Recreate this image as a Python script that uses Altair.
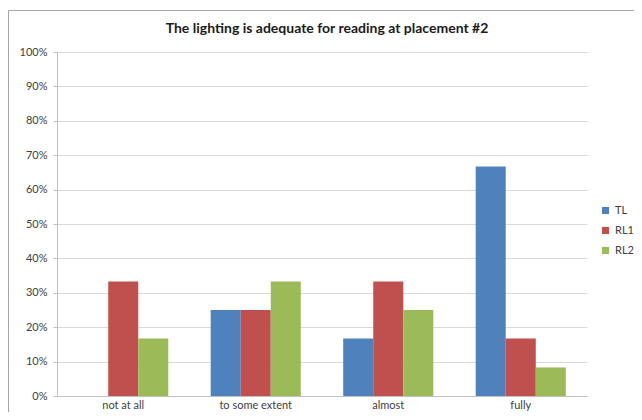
import altair as alt
import pandas as pd

categories = ["not at all", "to some extent", "almost", "fully"]
series = ["TL", "RL1", "RL2"]
tl = [0.0, 0.25, 0.167, 0.667]
rl1 = [0.333, 0.25, 0.333, 0.167]
rl2 = [0.167, 0.333, 0.25, 0.083]
colors = ["#4F81BD", "#C0504D", "#9BBB59"]
y_ticks = [0.0, 0.1, 0.2, 0.3, 0.4, 0.5, 0.6, 0.7, 0.8, 0.9, 1.0]
title_text = "The lighting is adequate for reading at placement #2"

rows = []
for name, vals in zip(series, [tl, rl1, rl2]):
    for c, v in zip(categories, vals):
        rows.append({"category": c, "series": name, "value": v})
df = pd.DataFrame(rows)

font = "Lato"

bars = alt.Chart(df).mark_bar().encode(
    x=alt.X(
        "category:N", sort=categories, title=None,
        scale=alt.Scale(paddingInner=0.32, paddingOuter=0.16),
        axis=alt.Axis(labelAngle=0, labelPadding=3, ticks=False, domainColor="#bfbfbf",
                      labelFontSize=11, labelColor="#404040", labelFont=font, grid=False),
    ),
    xOffset=alt.XOffset("series:N", sort=series),
    y=alt.Y(
        "value:Q", title=None, scale=alt.Scale(domain=[0, 1]),
        axis=alt.Axis(values=y_ticks, format=".0%", labelFontSize=11, labelColor="#404040",
                      labelFont=font, tickSize=4, tickColor="#bfbfbf", labelPadding=6,
                      domainColor="#bfbfbf", gridColor="#d9d9d9"),
    ),
    color=alt.Color(
        "series:N", sort=series, scale=alt.Scale(domain=series, range=colors),
        legend=alt.Legend(title=None, orient="none", legendX=543, legendY=153,
                          symbolType="square", symbolSize=50, symbolStrokeWidth=0,
                          labelFontSize=11, labelFont=font, labelColor="#404040",
                          rowPadding=8, labelOffset=4),
    ),
)

one = pd.DataFrame({"a": [0]})

# chart frame: left and top edges, kept inside the drawing area
border_left = alt.Chart(one).mark_rule(stroke="#a6a6a6", strokeWidth=1).encode(
    x=alt.value(-48.5), y=alt.value(-41.5), y2=alt.value(360)
)
border_top = alt.Chart(one).mark_rule(stroke="#a6a6a6", strokeWidth=1).encode(
    x=alt.value(-48.5), x2=alt.value(577), y=alt.value(-41.5)
)

title = alt.Chart(one).mark_text(
    font=font, fontSize=14, fontWeight="bold", color="#1a1a1a", align="center", baseline="middle"
).encode(x=alt.value(270), y=alt.value(-23), text=alt.value(title_text))

chart = alt.layer(border_left, border_top, title, bars).properties(
    width=530, height=344,
    padding={"left": 49, "top": 44, "right": 47, "bottom": 16},
    autosize=alt.AutoSizeParams(type="none"),
).configure_view(stroke=None)

chart.save("out.html", embed_options={"renderer": "svg", "actions": False})
